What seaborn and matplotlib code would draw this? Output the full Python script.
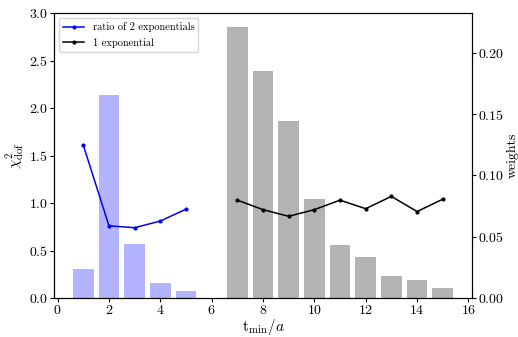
import numpy as np
import pandas as pd
import matplotlib
matplotlib.use('Agg')
import matplotlib.pyplot as plt
import seaborn as sns

# t_min values and weights (right axis) for the two fit types
tmin_two = [1, 2, 3, 4, 5]
weights_two = [0.0236, 0.1659, 0.0439, 0.0122, 0.0057]
tmin_one = [7, 8, 9, 10, 11, 12, 13, 14, 15]
weights_one = [0.2214, 0.1854, 0.1442, 0.0805, 0.0430, 0.0333, 0.0179, 0.0146, 0.0081]

# chi^2/dof (left axis)
chi2_two = [1.61, 0.76, 0.74, 0.81, 0.935]
chi2_one = [1.03, 0.93, 0.86, 0.93, 1.03, 0.94, 1.07, 0.91, 1.04]

plt.rcParams['font.family'] = 'cmr10'
plt.rcParams['mathtext.fontset'] = 'cm'
plt.rcParams['axes.formatter.use_mathtext'] = True
plt.rcParams['font.size'] = 10
plt.rcParams['xtick.major.pad'] = 1.5
plt.rcParams['ytick.major.pad'] = 1.5
plt.rcParams['xtick.major.size'] = 3
plt.rcParams['ytick.major.size'] = 3

fig, ax = plt.subplots(figsize=(5.18, 3.37), dpi=100)
fig.subplots_adjust(left=54/518, right=472/518, top=1-13/337, bottom=1-298/337)
ax2 = ax.twinx()

# weights as bars on the right axis
sns.barplot(x=tmin_two, y=weights_two, native_scale=True, color='#b3b3ff',
            saturation=1, width=0.8, linewidth=0, ax=ax2)
sns.barplot(x=tmin_one, y=weights_one, native_scale=True, color='#b3b3b3',
            saturation=1, width=0.8, linewidth=0, ax=ax2)

# chi2 lines on the left axis, drawn above the bars
ax.set_zorder(ax2.get_zorder() + 1)
ax.patch.set_visible(False)
sns.lineplot(x=tmin_two, y=chi2_two, color='blue', marker='o', markersize=3,
             markeredgewidth=0, linewidth=1.1, label='ratio of 2 exponentials', ax=ax)
sns.lineplot(x=tmin_one, y=chi2_one, color='black', marker='o', markersize=3,
             markeredgewidth=0, linewidth=1.1, label='1 exponential', ax=ax)

ax.set_xlim(-0.14, 16.14)
ax.set_ylim(0, 3.0)
ax2.set_ylim(0, 0.2325)
ax.set_xticks(np.arange(0, 17, 2))
ax.set_yticks(np.arange(0, 3.01, 0.5))
ax2.set_yticks(np.arange(0, 0.21, 0.05))

ax.set_xlabel(r'$\mathrm{t}_{\mathrm{min}}/a$', fontsize=11, labelpad=0)
ax.set_ylabel(r'$\chi^2_{\mathrm{dof}}$', fontsize=11, labelpad=2)
ax2.set_ylabel('weights', fontsize=10, labelpad=1.5)

ax.legend(loc='upper left', fontsize=7.5, framealpha=0.8)

fig.savefig('out.png', dpi=100)
